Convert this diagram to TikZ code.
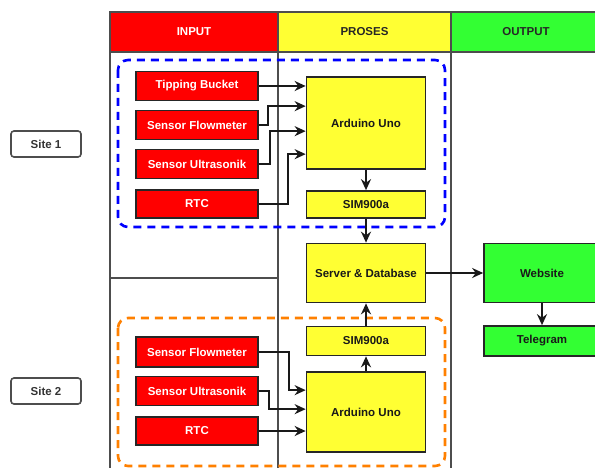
\documentclass[tikz,border=0pt]{standalone}
\usepackage{fontspec}
\setmainfont{Liberation Sans}
\usetikzlibrary{arrows.meta,calc}
\definecolor{myred}{HTML}{FF0000}
\definecolor{myyellow}{HTML}{FFFF33}
\definecolor{mygreen}{HTML}{33FF33}
\definecolor{gridc}{HTML}{4D4D4D}
\definecolor{myblue}{HTML}{0000FF}
\definecolor{myorange}{HTML}{FF8000}
\begin{document}
\begin{tikzpicture}[x=1pt,y=-1pt,
  basebox/.style={draw=black!85, line width=1.7pt, inner sep=0pt, font=\bfseries\fontsize{11.5}{13}\selectfont},
  redbox/.style={basebox, fill=myred, text=white, minimum width=122pt},
  yelbox/.style={basebox, fill=myyellow, text=black!90, minimum width=119pt},
  grnbox/.style={basebox, fill=mygreen, text=black!90, minimum width=116pt},
  hdr/.style={draw=gridc, line width=2pt, inner sep=0pt, minimum height=40pt, font=\bfseries\fontsize{11.5}{13}\selectfont},
  sitebox/.style={draw=gridc, line width=1.6pt, rounded corners=3pt, fill=white, minimum width=70pt, minimum height=26pt, inner sep=0pt, font=\bfseries\fontsize{11.5}{13}\selectfont, text=black!80},
  frame/.style={draw=gridc, line width=2pt},
  arr/.style={draw=black!90, line width=2pt, -{Stealth[length=11pt,width=10pt]}},
  dashbox/.style={line width=2.6pt, dash pattern=on 8pt off 6pt, rounded corners=10pt}
]
\useasboundingbox[fill=white] (0,0) rectangle (595,468);

% frame lines
\draw[frame] (110,52) -- (110,468);
\draw[frame] (278,52) -- (278,468);
\draw[frame] (451,52) -- (451,468);
\draw[frame] (110,278) -- (278,278);

% headers
\node[hdr, fill=myred, text=white, minimum width=168pt] (hin) at (194,32) {INPUT};
\node[hdr, fill=myyellow, text=black!85, minimum width=173pt] (hpr) at (364.5,32) {PROSES};
\node[hdr, fill=mygreen, text=black!85, minimum width=150pt] (hout) at (526,32) {OUTPUT};

% dashed groups
\draw[dashbox, draw=myblue] (118,60) rectangle (445,227);
\draw[dashbox, draw=myorange] (118,318) rectangle (445,466);

% site labels
\node[sitebox] (site1) at (46,144) {Site 1};
\node[sitebox] (site2) at (46,391) {Site 2};

% site 1
\node[redbox, minimum height=29pt] (tb) at (197,86) {Tipping Bucket};
\node[redbox, minimum height=29pt] (fm1) at (197,125) {Sensor Flowmeter};
\node[redbox, minimum height=29pt] (us1) at (197,164) {Sensor Ultrasonik};
\node[redbox, minimum height=28pt] (rtc1) at (197,204) {RTC};
\node[yelbox, minimum height=92pt] (ard1) at (366,123) {Arduino Uno};
\node[yelbox, minimum height=27pt] (sim1) at (366,204.5) {SIM900a};

% server and output
\node[yelbox, minimum height=59pt] (srv) at (366,273) {Server \& Database};
\node[grnbox, minimum height=59pt] (web) at (542,273) {Website};
\node[grnbox, minimum height=30pt] (tel) at (542,341) {Telegram};

% site 2
\node[yelbox, minimum height=29pt] (sim2) at (366,341) {SIM900a};
\node[yelbox, minimum height=80pt] (ard2) at (366,412) {Arduino Uno};
\node[redbox, minimum height=30pt] (fm2) at (197,352) {Sensor Flowmeter};
\node[redbox, minimum height=29pt] (us2) at (197,391) {Sensor Ultrasonik};
\node[redbox, minimum height=28pt] (rtc2) at (197,431) {RTC};

% connectors site 1
\draw[arr] (tb.east) -- (tb.east -| ard1.west);
\draw[arr] (fm1.east) -- ++(9,0) |- ($(ard1.north west)+(0,30)$);
\draw[arr] (us1.east) -- ++(11,0) |- ($(ard1.north west)+(0,55)$);
\draw[arr] (rtc1.east) -- ++(29,0) |- ($(ard1.north west)+(0,78)$);
\draw[arr] (ard1.south) -- (sim1.north);
\draw[arr] (sim1.south) -- (srv.north);

% connectors output
\draw[arr] (srv.east) -- (web.west);
\draw[arr] (web.south) -- (tel.north);

% connectors site 2
\draw[arr] (sim2.north) -- (srv.south);
\draw[arr] (ard2.north) -- (sim2.south);
\draw[arr] (fm2.east) -- ++(30,0) |- ($(ard2.north west)+(0,19)$);
\draw[arr] (us2.east) -- ++(10,0) |- ($(ard2.north west)+(0,38)$);
\draw[arr] (rtc2.east) -- (rtc2.east -| ard2.west);
\end{tikzpicture}
\end{document}
